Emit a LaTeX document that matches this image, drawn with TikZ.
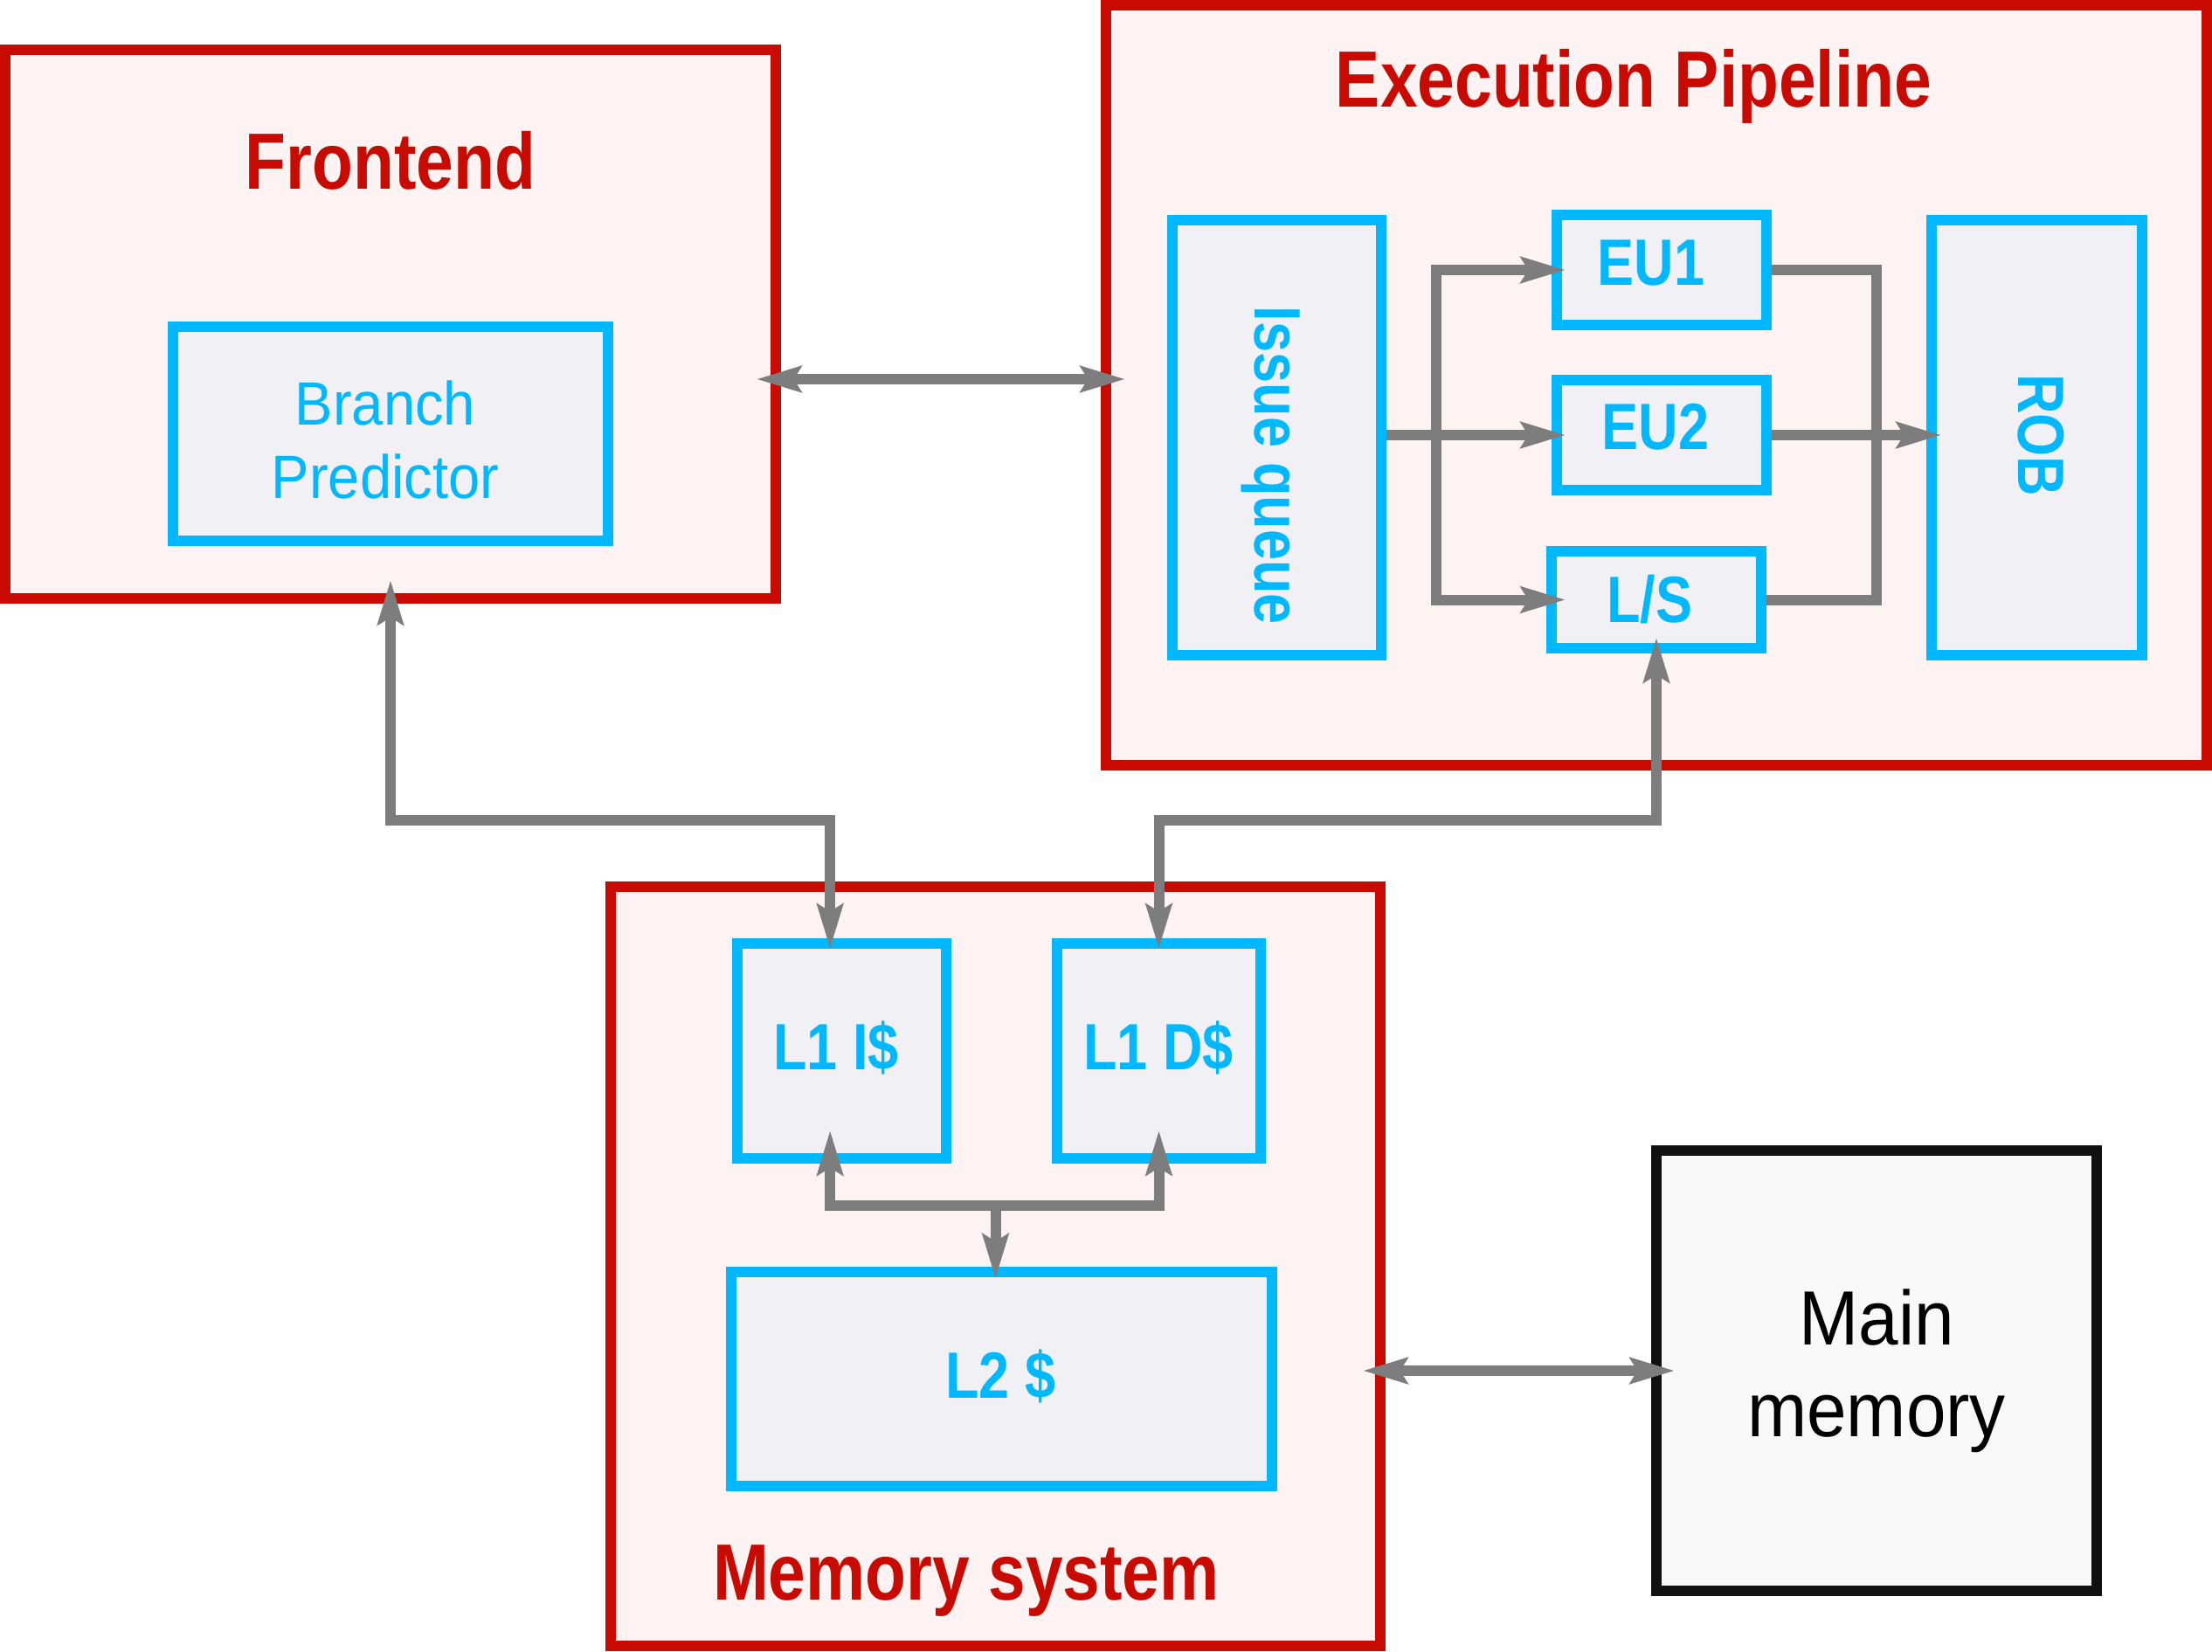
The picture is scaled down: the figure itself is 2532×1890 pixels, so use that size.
\documentclass[tikz,border=0pt]{standalone}
\usepackage{fontspec}
\setmainfont{Liberation Sans}
\newfontfamily\condbold{Liberation Sans}[FakeStretch=0.84]
\newfontfamily\condreg{Liberation Sans}[FakeStretch=0.93]
\usetikzlibrary{arrows.meta}
\definecolor{cred}{RGB}{200,10,0}
\definecolor{cpink}{RGB}{252,243,242}
\definecolor{cblue}{RGB}{0,184,255}
\definecolor{cbluefill}{RGB}{240,240,245}
\definecolor{cgray}{RGB}{125,125,125}
\definecolor{cblack}{RGB}{17,17,17}
\definecolor{cmemfill}{RGB}{248,248,248}
\tikzset{gtip/.tip={Stealth[length=15.5pt,width=9.5pt,inset=3pt,line width=0pt]}}
\begin{document}
\begin{tikzpicture}[x=0.3pt,y=-0.3pt,
 container/.style={draw=cred, fill=cpink, line width=3.6pt, inner sep=0pt, outer sep=0pt},
 unit/.style={draw=cblue, fill=cbluefill, line width=3.6pt, inner sep=0pt, outer sep=0pt},
 membox/.style={draw=cblack, fill=cmemfill, line width=3.6pt, inner sep=0pt, outer sep=0pt, align=center, font=\condreg\fontsize{26.4pt}{31.5pt}\selectfont},
 title/.style={text=cred, anchor=base, inner sep=0pt, font=\condbold\bfseries\fontsize{27.4pt}{33pt}\selectfont},
 ulabel/.style={text=cblue, anchor=base, inner sep=0pt, font=\condbold\bfseries\fontsize{22.5pt}{27pt}\selectfont},
 conn/.style={draw=cgray, line width=3.6pt},
 arr/.style={conn, -gtip},
 biarr/.style={conn, gtip-gtip},
]
\useasboundingbox (0,0) rectangle (2532,1890);
\fill[white] (0,0) rectangle (2532,1890);

% containers
\node[container, minimum width=264.6pt, minimum height=188.4pt] (front) at (447,371) {};
\node[container, minimum width=378pt, minimum height=261pt] (exec) at (1896,441) {};
\node[container, minimum width=264.3pt, minimum height=260.7pt] (memsys) at (1139.5,1449.5) {};
\node[membox, minimum width=151.2pt, minimum height=151.2pt] (mainmem) at (2148,1569) {Main\\memory};

% units
\node[unit, minimum width=149.4pt, minimum height=73.5pt] (bp) at (447,496.5) {};
\node[unit, minimum width=71.7pt, minimum height=149.4pt] (iq) at (1461.5,501) {};
\node[unit, minimum width=72pt, minimum height=37.8pt] (eu1) at (1902,309) {};
\node[unit, minimum width=72pt, minimum height=37.8pt] (eu2) at (1902,498) {};
\node[unit, minimum width=72pt, minimum height=33.3pt] (ls) at (1896,686.5) {};
\node[unit, minimum width=72.3pt, minimum height=149.4pt] (rob) at (2331.5,501) {};
\node[unit, minimum width=71.7pt, minimum height=73.8pt] (l1i) at (963.5,1203) {};
\node[unit, minimum width=69.9pt, minimum height=73.8pt] (l1d) at (1326.5,1203) {};
\node[unit, minimum width=185.7pt, minimum height=73.5pt] (l2) at (1146.5,1578.5) {};

% helper coordinates
\coordinate (fy) at (0,434);
\coordinate (hy) at (0,939);
\coordinate (hy2) at (0,1380);
\coordinate (qx) at (1644,0);
\coordinate (rx) at (2148,0);
\coordinate (l1ix) at ([xshift=-4pt]l1i.center);
\coordinate (l2x) at ([xshift=-2.1pt]l2.center);

% connectors
\draw[biarr, shorten <=-6.3pt, shorten >=-6.3pt] (front.east |- fy) -- (exec.west |- fy);
\draw[biarr, shorten <=-5.7pt, shorten >=-6pt] (memsys.east |- mainmem.west) -- (mainmem.west);
\draw[biarr, shorten <=-6pt, shorten >=-1.5pt] (front.south) |- (l1ix |- hy) -- (l1ix |- l1i.north);
\draw[biarr, shorten <=-3.3pt, shorten >=-1.5pt] (ls.south) |- (l1d.north |- hy) -- (l1d.north);
\draw[biarr, shorten <=-9.3pt, shorten >=-9.3pt] (l1ix |- l1i.south) |- (l1d.south |- hy2) -- (l1d.south);
\draw[arr, shorten >=-2pt] (l2x |- hy2) -- (l2x |- l2.north);
\draw[arr, shorten <=1.8pt, shorten >=-2.7pt] (iq.east |- eu2.west) -- (eu2.west);
\draw[biarr, shorten <=-2.7pt, shorten >=-4.5pt] (eu1.west) -- (qx |- eu1.west) -- (qx |- ls.west) -- (ls.west);
\draw[conn, shorten <=1.8pt, shorten >=1.8pt] (eu1.east) -- (rx |- eu1.east) -- (rx |- ls.east) -- (ls.east);
\draw[arr, shorten <=1.8pt, shorten >=-3pt] (eu2.east) -- (rob.west |- eu2.east);

% texts
\node[title] (tfront) at (447,216) {Frontend};
\node[title] (texec) at (1870,122) {Execution Pipeline};
\node[title] (tmem) at (1106,1831) {Memory system};
\node[align=center, text=cblue, inner sep=0pt, font=\condreg\fontsize{21pt}{25.2pt}\selectfont] (tbp) at (441,503) {Branch\\Predictor};
\node[ulabel] (teu1) at (1890,326) {EU1};
\node[ulabel] (teu2) at (1895,514) {EU2};
\node[ulabel] (tls) at (1888,712) {L/S};
\node[ulabel] (tl1i) at (957,1224) {L1 I\$};
\node[ulabel] (tl1d) at (1326,1224) {L1 D\$};
\node[ulabel] (tl2) at (1145.5,1600) {L2 \$};
\node[ulabel, rotate=-90] (tiq) at (1436,533) {Issue queue};
\node[ulabel, rotate=-90] (trob) at (2310,498) {ROB};
\end{tikzpicture}
\end{document}
